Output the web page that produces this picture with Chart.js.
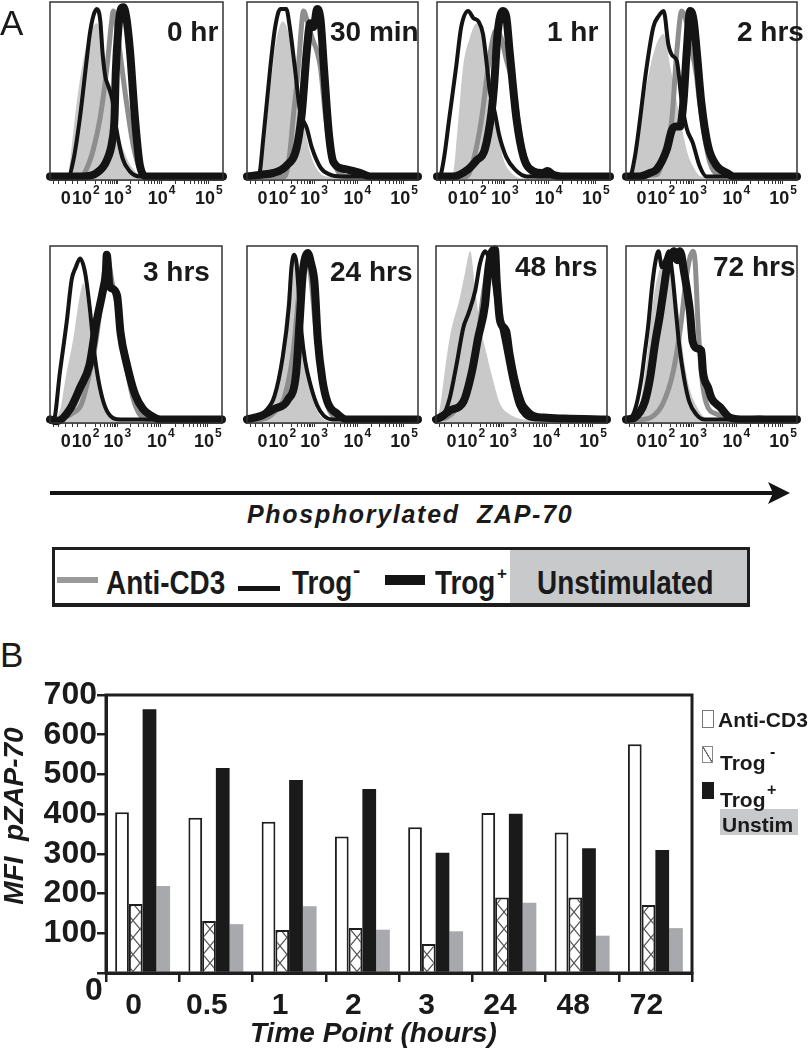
<!DOCTYPE html>
<html>
<head>
<meta charset="utf-8">
<script src="https://cdn.jsdelivr.net/npm/chart.js@4.4.0/dist/chart.umd.min.js"></script>
<style>
  body { margin: 0; background: #fff; }
  #page { position: relative; width: 810px; height: 1050px; overflow: hidden; font-family: "Liberation Sans", Arial, sans-serif; color: #1a1a1a; }
  .abs { position: absolute; line-height: 1; white-space: nowrap; }
  .hist { position: absolute; }
  .ttl { font-weight: bold; font-size: 28px; }
  .nar { font-weight: bold; font-size: 34px; transform: scaleX(0.82); transform-origin: left top; }
  .lgB { font-weight: bold; font-size: 21px; }
</style>
</head>
<body>
<div id="page"></div>
<script>
// ---------- panel A : histograms ----------
const timeLabels = ["0 hr", "30 min", "1 hr", "2 hrs", "3 hrs", "24 hrs", "48 hrs", "72 hrs"];
const decadeTickValues = [9.1, 20.7, 39.2, 64.5, 91.8];
const decadeTickLabels = ["0", "10^2", "10^3", "10^4", "10^5"];

// each curve: [channel %, count % of max]
const unstimCurves = [
  [[0,1],[10,1],[12,14],[15,40],[19,66],[23,82],[27,88],[30,80],[33,60],[36,40],[40,24],[45,11],[50,4],[55,1],[100,1]],
  [[0,1],[7,1],[10,20],[14,55],[17,78],[21,89],[25,80],[28,62],[31,45],[34,28],[37,15],[41,6],[46,2],[100,1]],
  [[0,1],[9,3],[12,30],[15,63],[19,80],[23,88],[26,82],[28.6,67],[32,44],[36,21],[39,10],[42,5],[48,1],[100,1]],
  [[0,1],[4,6],[8,28],[12,53],[17,74],[22,82],[26,63],[29.7,44],[33.6,25],[36,15],[39,8],[44,2],[100,1]],
  [[0,1],[5.8,7],[9,25],[13.6,48],[17,70],[19.4,79],[21,72],[23,57],[27,29],[30,15],[33,8],[39,2],[100,1]],
  [[0,1],[6,2],[12,8],[18,25],[22,55],[25,85],[27,92],[30,80],[32,55],[35,30],[39,12],[43,4],[48,1],[100,1]],
  [[0,2],[2,7],[5,28],[8,48],[14,71],[17,85],[20,97],[23,75],[25.7,56],[29.6,39],[33.4,24],[37.4,11],[43,5],[53,2],[100,1]],
  [[0,1],[3,2],[8,10],[12,35],[16,70],[20,88],[24,95],[28,85],[31,60],[34,35],[37,20],[41,10],[45,4],[50,2],[100,1]]
];
const antiCD3Curves = [
  [[0,2],[18,2],[21,6],[25,17],[29,35],[33,64],[35.5,88],[36.6,95],[38,90],[40,75],[44,45],[48,20],[52,6],[56,2],[100,2]],
  [[0,2],[22,2],[25,15],[27,35],[30,63],[32,88],[33,95],[35,90],[38,80],[41,72],[43,63],[46,35],[49,16],[53,5],[58,2],[100,2]],
  [[0,2],[17,2],[21,11],[25.7,34],[29.5,63],[32,78],[34,84],[37,80],[40,68],[44,53],[47,33],[50,15],[54,5],[60,2],[100,2]],
  [[0,2],[18,3],[22,13],[26.8,34],[29.7,72],[32.6,95],[35,90],[38,75],[41,60],[43,44],[46,24],[49,10],[54,3],[100,2]],
  [[0,2],[8,3],[14,6],[18,10],[23,28],[27,48],[30,72],[32,88],[33.5,93],[36,80],[40,62],[44,35],[48,15],[52,5],[58,2],[100,2]],
  [[0,2],[8,2],[16,6],[22,15],[27,40],[30,70],[32,88],[34,95],[37,85],[40,55],[43,28],[47,10],[52,3],[100,2]],
  [[0,2],[6,3],[12,8],[18,18],[24,45],[28,75],[31,90],[33,96],[35,85],[38,60],[42,45],[46,24],[50,10],[55,4],[60,3],[65,3.5],[72,2.5],[100,2]],
  [[0,2],[10,2],[16,4],[21.6,11],[27.6,29],[32,55],[35,80],[37,92],[39,97],[40.5,90],[42,58],[44,29],[47,11],[53,5],[60,3],[70,2],[78,3],[85,2],[100,2]]
];
const trogNegCurves = [
  [[0,2],[10.5,2],[13.5,11],[17.3,35],[20.8,64],[23,82],[25,92],[27,96],[29,90],[30.5,70],[32,58],[34,52],[36,45],[38.5,28],[42,12],[46,5],[52,2],[100,2]],
  [[0,2],[6.8,2],[9.7,25],[13.6,63],[16.5,86],[19.5,96],[23,96],[25,86],[28,63],[31,39],[35,29],[38,18],[43,7],[48.6,3],[55,2],[100,2]],
  [[0,2],[1.5,2],[4,12],[7,34],[11,63],[14,86],[18,95],[21,91],[24,89],[26.6,82],[29,63],[30.5,50],[33.4,38],[36,25],[40,13],[45,6],[52,2],[100,2]],
  [[0,2],[2.3,2],[5,12],[7,25],[12,63],[16,86],[19,92],[22,95],[24.8,76],[27,70],[29.7,67],[32.6,44],[35.5,29],[39,21],[43,8],[47,2],[100,2]],
  [[0,2],[2,1],[5.8,29],[9.7,57],[12.6,81],[15,88],[17.5,93],[20.4,85],[23,66],[26,38],[29,20],[33,7],[41,2],[100,2]],
  [[0,2],[3,2],[10,6],[16,15],[21,38],[24.5,66],[26,88],[27.7,95],[29,90],[30.5,70],[32,50],[34,35],[37,22],[41,10],[45,4],[50,2],[100,2]],
  [[0,2],[4,4],[8,14],[12,33],[16,54],[19,62],[23,75],[25.7,90],[28.7,97],[31,93],[33,85],[36,65],[40,45],[44,25],[48,10],[52,4],[58,2],[100,2]],
  [[0,2],[3,3],[6,10],[9,25],[11,40],[13,55],[15,75],[17,90],[19,97],[21,88],[23,92],[25,97],[27,85],[29,65],[31,45],[34,25],[37,12],[41,5],[46,2],[100,2]]
];
const trogPosCurves = [
  [[0,2],[19,2],[27,4],[32.8,11],[36,22],[37.3,35],[38,60],[39.5,85],[41,96],[42.4,97],[44,92],[46.2,73],[49,36],[52,8],[56,2],[100,2]],
  [[0,2],[8,3],[15.5,4],[23,8],[29,18],[32,37],[35,73],[37,88],[39,86],[41,96],[43,90],[45,63],[48,25],[50.6,10],[58,6],[66,4],[72,2],[100,2]],
  [[0,2],[9,2],[18,6],[22.8,11],[27.6,17],[31.5,38],[33,53],[35,82],[38,95],[40,92],[42,72],[46,34],[50,13],[55.6,5],[61,4],[64,5],[67,3],[72,2],[100,2]],
  [[0,2],[8,2],[14,4],[18,6],[23.8,17],[26.8,28],[29.5,30],[31.6,30],[33.6,44],[35.5,72],[37.5,95],[39.5,90],[41.4,72],[44,44],[48,19],[53,8],[59,4],[63,2],[100,2]],
  [[0,2],[4,1],[11.7,8],[17.5,20],[23,33],[27,57],[31,76],[32.5,85],[33,95],[34.5,78],[36,76],[39,72],[41,51],[44.7,33],[49.5,16],[54,8],[59,4],[64,2],[100,2]],
  [[0,2],[8,4],[16,8],[23.8,13],[28.7,28],[30.7,56],[32.6,84],[35.5,96],[37.5,90],[39.5,79],[41.4,47],[44,25],[47,12],[53,5],[58,2],[100,2]],
  [[0,2],[4,4],[8,7],[16,12],[21,29],[24.6,48],[28.7,67],[30.5,86],[32,95],[34.5,98],[35.5,80],[37.4,58],[41,52],[43,39],[46,24],[50,11],[53,7],[57,4],[65,3],[75,2.5],[100,2]],
  [[0,2],[5,3],[8,6],[11,12],[14,25],[17,45],[20,62],[22,75],[24,88],[26,93],[28,97],[30,92],[31.6,97],[34,85],[37.4,63],[39,46],[42,42],[44,41],[45,29],[48,20],[50,14],[55,9],[61,3],[70,2],[100,2]]
];

// ---------- panel B : bar chart ----------
const timePoints = ["0", "0.5", "1", "2", "3", "24", "48", "72"];
const antiCD3Mfi = [405, 391, 381, 344, 367, 403, 354, 576];
const trogNegMfi = [174, 131, 108, 113, 73, 190, 190, 171];
const trogPosMfi = [664, 516, 486, 463, 303, 401, 314, 310];
const unstimMfi = [219, 123, 168, 109, 105, 177, 94, 113];

const page = document.getElementById("page");

function addText(text, left, top, cls, extra) {
  const d = document.createElement("div");
  d.className = "abs " + (cls || "");
  d.style.left = left + "px";
  d.style.top = top + "px";
  d.innerHTML = text;
  if (extra) d.setAttribute("style", d.getAttribute("style") + ";" + extra);
  page.appendChild(d);
  return d;
}

function addBox(left, top, w, h, style) {
  const d = document.createElement("div");
  d.style.position = "absolute";
  d.style.left = left + "px";
  d.style.top = top + "px";
  d.style.width = w + "px";
  d.style.height = h + "px";
  d.style.boxSizing = "border-box";
  d.setAttribute("style", d.getAttribute("style") + ";" + style);
  page.appendChild(d);
  return d;
}

const frameBox = {
  id: "frameBox",
  afterDraw(chart, args, opts) {
    const a = chart.chartArea;
    const ctx = chart.ctx;
    ctx.save();
    ctx.strokeStyle = opts.color || "#333";
    ctx.lineWidth = opts.width || 1.5;
    ctx.strokeRect(a.left, a.top, a.right - a.left, a.bottom - a.top);
    ctx.restore();
  }
};

// "10" with a raised exponent, centred on the scale's own pixel for each decade
const decadeLabels = {
  id: "decadeLabels",
  afterDraw(chart) {
    const sc = chart.scales.x;
    const ctx = chart.ctx;
    const y = chart.chartArea.bottom + 19;
    ctx.save();
    ctx.fillStyle = "#1a1a1a";
    ctx.textBaseline = "middle";
    ctx.textAlign = "left";
    decadeTickValues.forEach(function (v, i) {
      const x = sc.getPixelForValue(v);
      const parts = decadeTickLabels[i].split("^");
      ctx.font = "bold 18px 'Liberation Sans'";
      const wb = ctx.measureText(parts[0]).width;
      let ws = 0;
      if (parts[1]) {
        ctx.font = "bold 12px 'Liberation Sans'";
        ws = ctx.measureText(parts[1]).width + 1;
      }
      const start = x - (wb + ws) / 2;
      ctx.font = "bold 18px 'Liberation Sans'";
      ctx.fillText(parts[0], start, y);
      if (parts[1]) {
        ctx.font = "bold 12px 'Liberation Sans'";
        ctx.fillText(parts[1], start + wb + 1, y - 8);
      }
    });
    ctx.restore();
  }
};

// minor tick positions between the decades
const minorTicks = [2, 5, 13, 16];
for (let i = 1; i < decadeTickValues.length - 1; i++) {
  const a = decadeTickValues[i], b = decadeTickValues[i + 1];
  for (let k = 2; k <= 9; k++) minorTicks.push(a + (b - a) * Math.log10(k));
}
const allHistTicks = decadeTickValues.concat(minorTicks).sort(function (p, q) { return p - q; });

// panel boxes [left, top, width, height] and title positions
const panelBoxes = [
  [50, 2, 173, 178], [247, 2, 171, 178], [437, 2, 173, 178], [626, 2, 171, 178],
  [50, 246, 172, 177], [247, 246, 171, 177], [436, 246, 171, 177], [626, 246, 171, 177]
];
const titlePos = [[167, 18], [330, 18], [547, 18], [737, 18], [143, 258], [330, 258], [515, 253], [713, 253]];

function makeHistogram(i) {
  const b = panelBoxes[i];
  const padL = 4, padR = 4, padT = 2, axisH = 34;
  const holder = document.createElement("div");
  holder.className = "hist";
  holder.style.left = (b[0] - padL) + "px";
  holder.style.top = (b[1] - padT) + "px";
  const cv = document.createElement("canvas");
  cv.width = b[2] + padL + padR;
  cv.height = b[3] + padT + axisH;
  cv.style.width = cv.width + "px";
  cv.style.height = cv.height + "px";
  holder.appendChild(cv);
  page.appendChild(holder);

  const toPts = function (arr) { return arr.map(function (p) { return { x: p[0], y: p[1] }; }); };

  new Chart(cv.getContext("2d"), {
    type: "line",
    data: {
      datasets: [
        { label: "Trog+", data: toPts(trogPosCurves[i]), borderColor: "#141414", borderWidth: 8, fill: false },
        { label: "Trog-", data: toPts(trogNegCurves[i]), borderColor: "#141414", borderWidth: 4, fill: false },
        { label: "Anti-CD3", data: toPts(antiCD3Curves[i]), borderColor: "#8e8e8e", borderWidth: 5, fill: false },
        { label: "Unstimulated", data: toPts(unstimCurves[i]), borderColor: "rgba(0,0,0,0)", borderWidth: 0, backgroundColor: "#c9c9c9", fill: "origin" }
      ]
    },
    options: {
      responsive: false,
      animation: false,
      layout: { padding: { left: padL, right: padR, top: padT, bottom: 0 } },
      elements: { point: { radius: 0 }, line: { cubicInterpolationMode: "monotone", borderJoinStyle: "round", borderCapStyle: "round" } },
      datasets: { line: { clip: false } },
      plugins: { legend: { display: false }, tooltip: { enabled: false }, frameBox: { color: "#333", width: 1.5 } },
      scales: {
        x: {
          type: "linear",
          min: 0,
          max: 100,
          afterBuildTicks: function (ax) { ax.ticks = allHistTicks.map(function (v) { return { value: v }; }); },
          afterFit: function (ax) { ax.height = axisH; },
          ticks: { autoSkip: false, maxRotation: 0, callback: function () { return ""; } },
          grid: { drawOnChartArea: false, tickLength: 4, color: "#333", lineWidth: 1 },
          border: { display: true, color: "#333", width: 1.5 }
        },
        y: { display: false, min: 0, max: 100 }
      }
    },
    plugins: [frameBox, decadeLabels]
  });

  addText(timeLabels[i], titlePos[i][0], titlePos[i][1], "ttl");
}

for (let i = 0; i < 8; i++) makeHistogram(i);

// panel letters
addText("A", 0, 5, "", "font-size:35px");
addText("B", 0, 637, "", "font-size:35px");

// arrow and axis caption
const svgNS = "http://www.w3.org/2000/svg";
const svg = document.createElementNS(svgNS, "svg");
svg.setAttribute("width", "810");
svg.setAttribute("height", "50");
svg.style.position = "absolute";
svg.style.left = "0px";
svg.style.top = "470px";
svg.innerHTML = '<line x1="50" y1="23" x2="776" y2="23" stroke="#141414" stroke-width="4"/>' +
  '<polygon points="790,23 768,12 773,23 768,34" fill="#141414"/>';
page.appendChild(svg);
addText("Phosphorylated&nbsp; ZAP-70", 247, 502, "", "font-size:25px;font-weight:bold;font-style:italic;letter-spacing:1.7px");

// legend of panel A
addBox(510, 547, 240, 60, "background:#c8c9cb");
addBox(52, 547, 698, 60, "border:3px solid #1e1e1e;border-bottom-width:4px");
addBox(57, 577, 41, 6, "background:#9a9a9a");
addBox(238, 586, 42, 5, "background:#141414");
addBox(385, 575, 40, 10, "background:#141414");
addText("Anti-CD3", 106, 565, "nar");
addText("Trog", 292, 565, "nar");
addText("-", 353, 559, "", "font-size:22px;font-weight:bold");
addText("Trog", 435, 565, "nar");
addText("+", 497, 565, "", "font-size:17px;font-weight:bold");
addText("Unstimulated", 537, 565, "nar");

// ---------- bar chart ----------
const hatch = document.createElement("canvas");
hatch.width = 14;
hatch.height = 17;
const hc = hatch.getContext("2d");
hc.fillStyle = "#fff";
hc.fillRect(0, 0, 14, 17);
hc.strokeStyle = "#555";
hc.lineWidth = 1.2;
hc.beginPath();
hc.moveTo(0, 0); hc.lineTo(14, 17);
hc.moveTo(14, 0); hc.lineTo(0, 17);
hc.stroke();

const barHolder = document.createElement("div");
barHolder.className = "hist";
barHolder.style.left = "0px";
barHolder.style.top = "640px";
const barCanvas = document.createElement("canvas");
barCanvas.width = 810;
barCanvas.height = 410;
barCanvas.style.width = "810px";
barCanvas.style.height = "410px";
barHolder.appendChild(barCanvas);
page.appendChild(barHolder);
const bctx = barCanvas.getContext("2d");

new Chart(bctx, {
  type: "bar",
  data: {
    labels: timePoints,
    datasets: [
      { label: "Anti-CD3", data: antiCD3Mfi, backgroundColor: "#ffffff", borderColor: "#1e1e1e", borderWidth: 2 },
      { label: "Trog-", data: trogNegMfi, backgroundColor: bctx.createPattern(hatch, "repeat"), borderColor: "#1e1e1e", borderWidth: 2 },
      { label: "Trog+", data: trogPosMfi, backgroundColor: "#1a1a1a", borderColor: "#1a1a1a", borderWidth: 0 },
      { label: "Unstim", data: unstimMfi, backgroundColor: "#a7a9ac", borderWidth: 0 }
    ]
  },
  options: {
    responsive: false,
    animation: false,
    layout: { padding: { left: 0, top: 55, right: 118, bottom: 0 } },
    datasets: { bar: { categoryPercentage: 0.75, barPercentage: 1.0 } },
    plugins: { legend: { display: false }, tooltip: { enabled: false }, frameBox: { color: "#1e1e1e", width: 3 } },
    scales: {
      x: {
        afterFit: function (ax) { ax.height = 77; },
        grid: { offset: true, drawOnChartArea: false, tickLength: 9, color: "#1e1e1e", lineWidth: 2.5 },
        border: { color: "#1e1e1e", width: 3 },
        ticks: { color: "#1a1a1a", padding: 6, labelOffset: -9, font: { family: "Liberation Sans", size: 30, weight: "bold" } }
      },
      y: {
        min: 0,
        max: 700,
        afterFit: function (ax) { ax.width = 106; },
        ticks: {
          stepSize: 100,
          autoSkip: false,
          padding: 0,
          color: "#1a1a1a",
          font: { family: "Liberation Sans", size: 32, weight: "bold" },
          callback: function (v) { return v === 0 ? "" : v; }
        },
        grid: { drawOnChartArea: false, tickLength: 9, color: "#1e1e1e", lineWidth: 2.5 },
        border: { color: "#1e1e1e", width: 3 }
      }
    }
  },
  plugins: [frameBox]
});

addText("0", 85, 973, "", "font-size:32px;font-weight:bold");
addText("MFI&nbsp; pZAP-70", -86, 802, "", "width:200px;text-align:center;font-size:28px;font-weight:bold;font-style:italic;transform:rotate(-90deg);transform-origin:center");
addText("Time Point (hours)", 250, 1019, "", "font-size:28px;font-weight:bold;font-style:italic");

// legend of panel B
addBox(702, 710, 12, 18, "background:#fff;border:1px solid #777");
addBox(702, 746, 11, 17, "background:linear-gradient(to top right, #fff 45%, #666 47%, #666 53%, #fff 55%);border:1px solid #888");
addBox(702, 782, 12, 17, "background:#1a1a1a");
addBox(720, 809, 78, 26, "background:#c8c9cb");
addText("Anti-CD3", 718, 709, "lgB");
addText("Trog", 720, 752, "lgB");
addText("-", 770, 744, "", "font-size:16px;font-weight:bold");
addText("Trog", 720, 789, "lgB");
addText("+", 767, 782, "", "font-size:16px;font-weight:bold");
addText("Unstim", 722, 814, "lgB");
</script>
</body>
</html>
